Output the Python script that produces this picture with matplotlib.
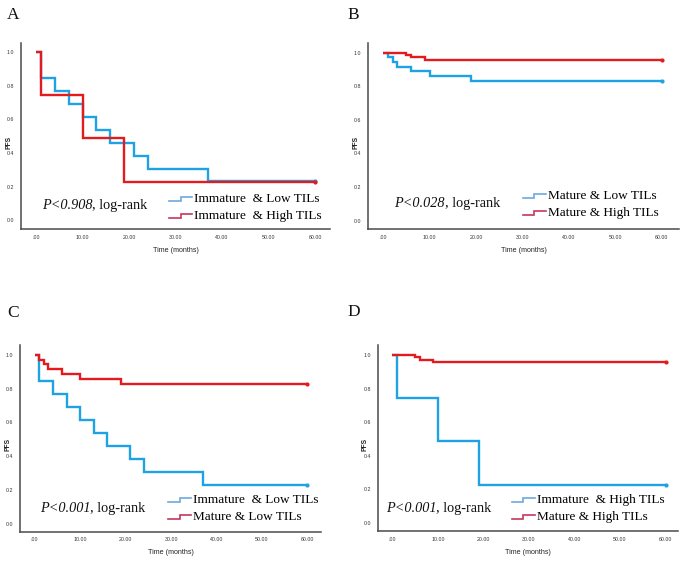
import matplotlib
matplotlib.use('Agg')
import matplotlib.pyplot as plt
from matplotlib.legend_handler import HandlerBase
from matplotlib.lines import Line2D
from matplotlib.font_manager import FontProperties

# ---------------- data ----------------
imm_low_t = [1, 4, 7, 10, 13, 16, 21, 24, 37]
imm_low_s = [0.846, 0.769, 0.692, 0.615, 0.538, 0.462, 0.385, 0.308, 0.231]
imm_high_t = [1, 10, 19]
imm_high_s = [0.743, 0.487, 0.228]
mat_low_t = [1, 2, 3, 6, 10, 19]
mat_low_s = [0.973, 0.945, 0.916, 0.888, 0.859, 0.830]
mat_high_t = [5, 6, 9]
mat_high_s = [0.986, 0.972, 0.958]
follow_up_end = 60

x_ticks = [0, 10, 20, 30, 40, 50, 60]
x_tick_labels = ['.00', '10.00', '20.00', '30.00', '40.00', '50.00', '60.00']
y_ticks = [0.0, 0.2, 0.4, 0.6, 0.8, 1.0]
y_tick_labels = ['0.0', '0.2', '0.4', '0.6', '0.8', '1.0']

panels = ['A', 'B', 'C', 'D']
p_values = ['P<0.908', 'P<0.028', 'P<0.001', 'P<0.001']
legend_labels = [
    ['Immature  & Low TILs', 'Immature  & High TILs'],
    ['Mature & Low TILs', 'Mature & High TILs'],
    ['Immature  & Low TILs', 'Mature & Low TILs'],
    ['Immature  & High TILs', 'Mature & High TILs'],
]

# ---------------- style ----------------
W, H = 685, 563
BLUE = '#1ea2e4'
RED = '#e31b1f'
BLUE_H = '#6fa8de'
RED_H = '#c8365c'
SPINE = '#4a4a4a'
SERIF = 'Liberation Serif'
SANS = 'Liberation Sans'

fig = plt.figure(figsize=(W / 100, H / 100), dpi=100)
fig.patch.set_facecolor('white')


def add_ax(l, t, r, b):
    return fig.add_axes([l / W, 1 - b / H, (r - l) / W, (b - t) / H])


class StepHandler(HandlerBase):
    def create_artists(self, legend, orig_handle, xdescent, ydescent,
                       width, height, fontsize, trans):
        x0 = -xdescent
        y0 = -ydescent
        xs = [x0, x0 + 0.5 * width, x0 + 0.5 * width, x0 + width]
        ys = [y0 + 0.15 * height, y0 + 0.15 * height,
              y0 + 0.55 * height, y0 + 0.55 * height]
        ln = Line2D(xs, ys, color=orig_handle.get_color(), lw=1.2,
                    transform=trans, solid_joinstyle='miter')
        return [ln]


def km(ax, t, s, color):
    tt = [0] + list(t) + [follow_up_end]
    ss = [1.0] + list(s) + [s[-1]]
    ax.step(tt, ss, where='post', color=color, lw=1.7,
            solid_joinstyle='miter', solid_capstyle='butt')
    ax.plot([follow_up_end], [s[-1]], marker='o', ms=2.0, color=color)


# axes boxes in pixels: left, top, right, bottom ; xlim ; ylim
boxes = [
    ((21, 43, 330, 229), (-3.23, 63.2), (-0.052, 1.055)),
    ((368.3, 43.3, 679.3, 229.3), (-3.23, 63.8), (-0.052, 1.055)),
    ((20, 345, 321, 531.7), (-3.24, 63.0), (-0.047, 1.059)),
    ((377.7, 345, 678.3, 531), (-3.2, 62.8), (-0.047, 1.059)),
]
curves = [
    [(imm_low_t, imm_low_s, BLUE), (imm_high_t, imm_high_s, RED)],
    [(mat_low_t, mat_low_s, BLUE), (mat_high_t, mat_high_s, RED)],
    [(imm_low_t, imm_low_s, BLUE), (mat_low_t, mat_low_s, RED)],
    [(imm_high_t, imm_high_s, BLUE), (mat_high_t, mat_high_s, RED)],
]
letter_pos = [(7, 19), (347, 19), (7, 317), (347, 316)]
p_pos = [(41.7, 209.3), (394.3, 207.3), (40, 512.3), (385.7, 512.3)]
leg_pos = [(169.3, 200), (522.7, 197), (168.3, 501), (511.7, 500.7)]
ylabel_x = [-0.026, -0.028, -0.029, -0.032]

for i in range(4):
    (l, t, r, b), xl, yl = boxes[i]
    ax = add_ax(l, t, r, b)
    for tt, ss, c in curves[i]:
        km(ax, tt, ss, c)
    ax.set_xlim(*xl)
    ax.set_ylim(*yl)
    ax.set_xticks(x_ticks)
    ax.set_xticklabels(x_tick_labels, family=SANS, fontsize=3.8, color='#333333')
    ax.set_yticks(y_ticks)
    ax.set_yticklabels(y_tick_labels, family=SANS, fontsize=3.8, color='#333333')
    ax.tick_params(axis='both', length=0)
    ax.tick_params(axis='x', pad=4)
    ax.tick_params(axis='y', pad=5)
    for sp in ['top', 'right']:
        ax.spines[sp].set_visible(False)
    for sp in ['left', 'bottom']:
        ax.spines[sp].set_color(SPINE)
        ax.spines[sp].set_linewidth(1.1)
    ax.set_ylabel('PFS', family=SANS, fontsize=4.8, fontweight='bold', color='#222222')
    ax.yaxis.set_label_coords(ylabel_x[i], 0.465)
    ax.set_xlabel('Time (months)', family=SANS, fontsize=5.1, color='#222222')
    ax.xaxis.set_label_coords(0.5, -0.095)

    # panel letter
    lx, ly = letter_pos[i]
    fig.text(lx / W, 1 - ly / H, panels[i], family=SERIF, fontsize=12.5,
             va='baseline', ha='left', color='#111111')

    # p-value annotation
    px, py = p_pos[i]
    t1 = fig.text(px / W, 1 - py / H, p_values[i], family=SERIF, style='italic',
                  fontsize=10.3, va='baseline', ha='left', color='#111111')
    ax.annotate(', log-rank', xy=(1, 0), xycoords=t1, va='bottom', ha='left',
                family=SERIF, fontsize=10.3, color='#111111')

    # legend with step-shaped handles
    hx, hy = leg_pos[i]
    handles = [Line2D([], [], color=BLUE_H), Line2D([], [], color=RED_H)]
    fp = FontProperties(family=SERIF, size=9.5)
    ax.legend(handles, legend_labels[i], handler_map={Line2D: StepHandler()},
              loc='upper left', bbox_to_anchor=(hx / W, 1 - (hy - 7.0) / H),
              bbox_transform=fig.transFigure, frameon=False, borderpad=0,
              borderaxespad=0, handlelength=1.75, handletextpad=0.15,
              labelspacing=0.36, prop=fp)

fig.savefig('out.png', dpi=100, facecolor='white')
